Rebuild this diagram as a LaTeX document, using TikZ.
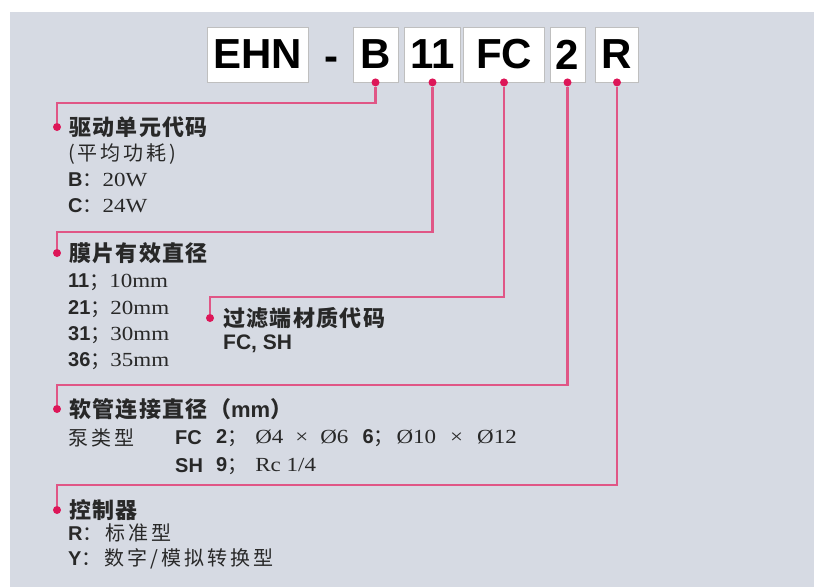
\documentclass[tikz,border=0pt]{standalone}
\usepackage{fontspec}
\setmainfont{Liberation Serif}[FakeStretch=1.15]
\setsansfont{Liberation Sans}
\newfontfamily\cjk{Noto Sans CJK SC}[LetterSpace=6]
\newfontfamily\cjkwide{Noto Sans CJK SC}[LetterSpace=15]
\usetikzlibrary{positioning}

\definecolor{panelgray}{RGB}{214,218,227}
\definecolor{linkpink}{RGB}{224,86,134}
\definecolor{dotred}{RGB}{221,22,88}
\definecolor{inkgray}{RGB}{40,40,40}

\newcommand{\lab}[1]{{\sffamily\bfseries #1}}
\newcommand{\cn}[1]{{\cjkwide #1}}

\tikzset{
  codebox/.style={draw=black!25, fill=white, line width=0.8pt, minimum height=55pt, inner sep=0pt,
    font=\sffamily\bfseries\fontsize{42}{42}\selectfont},
  pin/.style={circle, fill=dotred, inner sep=0pt, minimum size=8pt},
  link/.style={draw=linkpink, line width=2.4pt},
  head/.style={anchor=west, inner sep=0pt, text=inkgray, font=\cjk\bfseries\fontsize{22}{22}\selectfont},
  row/.style={anchor=west, inner sep=0pt, text=inkgray, font=\fontsize{20}{20}\selectfont},
}

\begin{document}
\begin{tikzpicture}[x=1pt, y=-1pt]
        \useasboundingbox (0,0) rectangle (814,587);
        % the panel
        \fill[panelgray] (10,12) rectangle (814,587);

        % the code boxes
        \node[codebox, minimum width=101pt] (bEHN) at (257.5,54.5) {EHN};
        \node[anchor=base, inner sep=0pt, font=\sffamily\bfseries\fontsize{42}{42}\selectfont] (dash) at (331,70) {-};
        \node[codebox, minimum width=45pt] (bB) at (375.5,54.5) {B};
        \node[codebox, minimum width=56pt] (b11) at (432.5,54.5) {11};
        \node[codebox, minimum width=81pt] (bFC) at (504,54.5) {FC};
        \node[codebox, minimum width=35pt] (b2) at (567.5,54.5) {2};
        \node[codebox, minimum width=43pt] (bR) at (617,54.5) {R};

        % the dots under the boxes
        \node[pin] (tB) at (bB.south) {};
        \node[pin] (t11) at (b11.south) {};
        \node[pin] (tFC) at (bFC.south) {};
        \node[pin] (t2) at (b2.south) {};
        \node[pin] (tR) at (bR.south) {};

        % the dots before the texts
        \node[pin] (pB) at (57,127) {};
        \node[pin] (p11) at (57,253) {};
        \node[pin] (pFC) at (210,318) {};
        \node[pin] (p2) at (57,409) {};
        \node[pin] (pR) at (57,510) {};

        % the bends of the lines
        \coordinate (kB) at (57,103);
        \coordinate (k11) at (57,232);
        \coordinate (kFC) at (210,297);
        \coordinate (k2) at (57,385);
        \coordinate (kR) at (57,485);

        % draw the lines
        \draw[link] (tB) |- (kB) -- (pB);
        \draw[link] (t11) |- (k11) -- (p11);
        \draw[link] (tFC) |- (kFC) -- (pFC);
        \draw[link] (t2) |- (k2) -- (p2);
        \draw[link] (tR) |- (kR) -- (pR);

        % the texts: drive unit
        \node[head] (hB) at (69,127) {驱动单元代码};
        \node[row] (rB1) at (68,154) {\cn{(平均功耗)}};
        \node[row] (rB2) at (68,180) {\lab{B}\cn{：}20W};
        \node[row] (rB3) at (68,206) {\lab{C}\cn{：}24W};

        % diaphragm
        \node[head] (h11) at (69,253) {膜片有效直径};
        \node[row] (r111) at (68,282) {\lab{11}\cn{；}10mm};
        \node[row] (r112) at (68,309) {\lab{21}\cn{；}20mm};
        \node[row] (r113) at (68,335) {\lab{31}\cn{；}30mm};
        \node[row] (r114) at (68,361) {\lab{36}\cn{；}35mm};

        % material
        \node[head] (hFC) at (223,318) {过滤端材质代码};
        \node[row, font=\sffamily\bfseries\fontsize{21}{21}\selectfont] (rFC) at (223,344) {FC, SH};

        % tube
        \node[head] (h2) at (69,409) {软管连接直径（{\sffamily mm}）};
        \node[row] (r2a) at (68,438) {\cn{泵类型}};
        \node[row] (r2b) at (175,438) {\lab{FC}};
        \node[row] (r2c) at (216,438) {\lab{2}\cn{；}\hspace{8pt}Ø4\hspace{12pt}×\hspace{12pt}Ø6\hspace{14pt}\lab{6}\cn{；}\hspace{3pt}Ø10\hspace{14pt}×\hspace{14pt}Ø12};
        \node[row] (r2d) at (175,466) {\lab{SH}};
        \node[row] (r2e) at (216,466) {\lab{9}\cn{；}\hspace{8pt}Rc 1/4};

        % controller
        \node[head] (hR) at (69,510) {控制器};
        \node[row] (rR1) at (68,533) {\lab{R}\cn{：标准型}};
        \node[row] (rR2) at (68,559) {\lab{Y}\cn{：数字/模拟转换型}};
    \end{tikzpicture}
\end{document}
